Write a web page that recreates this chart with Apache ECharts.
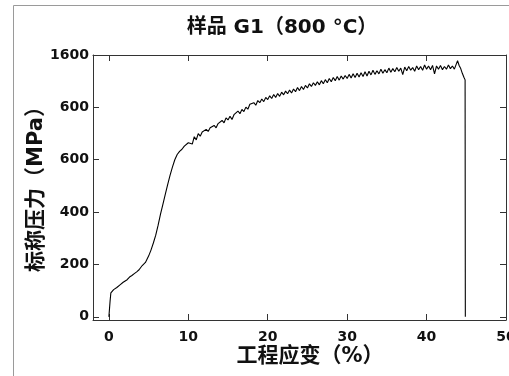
<!DOCTYPE html>
<html><head><meta charset="utf-8">
<script src="https://cdn.jsdelivr.net/npm/echarts@6/dist/echarts.min.js"></script>
<style>html,body{margin:0;padding:0;background:#fff;}#c{width:509px;height:376px;}</style>
</head><body><div id="c"></div>
<script>
const titleText = '样品 G1（800 °C）';
const xName = '工程应变（%）';
const yName = '标称压力（MPa）';
const xTicks = [0, 10, 20, 30, 40, 50];
const yTicks = [0, 200, 400, 600, 800, 1000];
const yTickLabels = ['0', '200', '400', '600', '600', '1600'];
const strain = [
  0,0.05,0.15,0.25,0.4,0.6,0.8,1.0,1.2,1.4,1.6,1.8,2.0,2.3,2.6,2.9,3.2,3.5,3.8,4.0,
  4.2,4.4,4.6,4.8,5.0,5.3,5.6,5.9,6.2,6.5,6.8,7.1,7.4,7.7,8.0,8.3,8.6,8.9,9.2,9.5,9.75,
  10.0,10.25,10.5,10.75,11.0,11.25,11.5,11.75,
  12.0,12.25,12.5,12.75,13.0,13.25,13.5,13.75,
  14.0,14.25,14.5,14.75,15.0,15.25,15.5,15.75,
  16.0,16.25,16.5,16.75,17.0,17.25,17.5,17.75,
  18.0,18.25,18.5,18.75,19.0,19.25,19.5,19.75,
  20.0,20.25,20.5,20.75,21.0,21.25,21.5,21.75,
  22.0,22.25,22.5,22.75,23.0,23.25,23.5,23.75,
  24.0,24.25,24.5,24.75,25.0,25.25,25.5,25.75,
  26.0,26.25,26.5,26.75,27.0,27.25,27.5,27.75,
  28.0,28.25,28.5,28.75,29.0,29.25,29.5,29.75,
  30.0,30.25,30.5,30.75,31.0,31.25,31.5,31.75,
  32.0,32.25,32.5,32.75,33.0,33.25,33.5,33.75,
  34.0,34.25,34.5,34.75,35.0,35.25,35.5,35.75,
  36.0,36.25,36.5,36.75,37.0,37.25,37.5,37.75,
  38.0,38.25,38.5,38.75,39.0,39.25,39.5,39.75,
  40.0,40.25,40.5,40.75,41.0,41.25,41.5,41.75,
  42.0,42.25,42.5,42.75,43.0,43.25,43.5,43.75,
  43.9,44.1,44.3,44.5,44.7,44.85,44.88
];
const stress = [
  0,20,60,92,98,104,100,112,108,122,118,132,128,142,152,158,165,172,180,176,
  196,190,208,220,232,255,282,312,350,392,430,468,505,540,572,600,620,632,640,652,645,
  665,672,660,688,676,700,690,706,
  700,716,708,722,715,731,722,738,
  735,750,741,760,752,766,754,772,
  768,786,776,792,784,801,793,812,
  805,818,808,826,818,832,822,838,
  830,844,834,849,838,853,842,858,
  848,862,852,866,855,870,860,876,
  864,880,868,884,874,890,880,894,
  884,898,886,902,890,906,894,910,
  898,914,902,918,904,920,908,922,
  910,926,912,928,914,930,916,932,
  918,936,920,938,924,942,926,940,
  928,946,930,944,932,950,934,948,
  936,952,938,950,925,954,940,956,
  942,952,938,958,944,956,942,962,
  946,958,944,960,928,958,946,960,
  944,956,946,962,948,958,946,966,
  978,960,948,930,915,905,0
];

const chart = echarts.init(document.getElementById('c'), null, {renderer: 'canvas'});
const data = strain.map((s, i) => [s, stress[i]]);
const lblFont = {fontFamily: 'DejaVu Sans', fontWeight: 'bold', fontSize: 14, color: '#111'};
const lineStyle = {color: '#333', width: 1};
const mkAxisLine = () => ({show: true, onZero: false, lineStyle: lineStyle});
const mkTick = (vals) => ({show: true, inside: true, length: 6, customValues: vals, lineStyle: lineStyle});
chart.setOption({
  animation: false,
  backgroundColor: '#fff',
  title: {text: titleText, left: 277, top: 13, textAlign: 'center',
    textStyle: {fontFamily: 'DejaVu Sans, Noto Sans CJK SC', fontWeight: 'bold', fontSize: 20, color: '#111'}},
  grid: {left: 93, right: 3, top: 55, bottom: 56, containLabel: false, outerBoundsMode: 'none'},
  xAxis: [{
    type: 'value', min: -2, max: 50, position: 'bottom',
    axisLine: mkAxisLine(), axisTick: mkTick(xTicks),
    axisLabel: Object.assign({show: true, margin: 10, customValues: xTicks, formatter: v => String(v)}, lblFont),
    splitLine: {show: false}
  }, {
    type: 'value', min: -2, max: 50, position: 'top',
    axisLine: mkAxisLine(), axisTick: mkTick(xTicks),
    axisLabel: {show: false}, splitLine: {show: false}
  }],
  yAxis: [{
    type: 'value', min: -12, max: 1000, position: 'left',
    axisLine: mkAxisLine(), axisTick: mkTick(yTicks),
    axisLabel: Object.assign({show: true, margin: 4, customValues: yTicks,
      formatter: v => yTickLabels[yTicks.indexOf(v)]}, lblFont),
    splitLine: {show: false}
  }, {
    type: 'value', min: -12, max: 1000, position: 'right',
    axisLine: mkAxisLine(), axisTick: mkTick(yTicks),
    axisLabel: {show: false}, splitLine: {show: false}
  }],
  series: [{
    type: 'line', data: data, xAxisIndex: 0, yAxisIndex: 0,
    showSymbol: false, symbol: 'none',
    lineStyle: {color: '#000', width: 1.1}
  }],
  graphic: [
    {type: 'rect', shape: {x: 13.5, y: 5.5, width: 600, height: 500},
      style: {fill: 'none', stroke: '#9a9a9a', lineWidth: 1}, silent: true},
    {type: 'text', x: 310, y: 357,
      style: {text: xName, fontFamily: 'DejaVu Sans, Noto Sans CJK SC', fontWeight: 'bold', fontSize: 21,
        fill: '#111', align: 'center', verticalAlign: 'middle'}},
    {type: 'text', x: 37, y: 184, rotation: Math.PI / 2,
      style: {text: yName, fontFamily: 'DejaVu Sans, Noto Sans CJK SC', fontWeight: 'bold', fontSize: 21,
        fill: '#111', align: 'center', verticalAlign: 'middle'}}
  ]
});
</script></body></html>
